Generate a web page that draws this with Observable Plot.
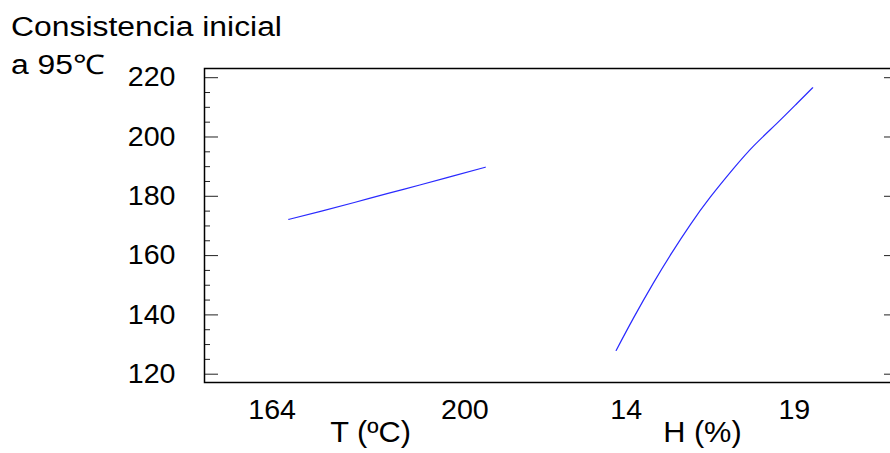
<!DOCTYPE html>
<html><head><meta charset="utf-8">
<script src="https://cdn.jsdelivr.net/npm/d3@7"></script>
<script src="https://cdn.jsdelivr.net/npm/@observablehq/plot@0.6"></script>
<style>
html,body{margin:0;padding:0;background:#fff;overflow:hidden;width:890px;height:453px}
#wrap{position:relative;width:890px;height:453px;overflow:hidden}
#title{position:absolute;left:11px;top:8px;font-family:"Liberation Sans",Arial,sans-serif;font-size:27px;line-height:38px;transform:scaleX(1.18);transform-origin:0 0;white-space:nowrap;color:#000;z-index:2}
svg{max-width:none !important}
</style></head><body>
<div id="wrap"><div id="title">Consistencia inicial<br>a 95℃</div></div>
<script>
// ---- data ----
const factorNames = ["T (ºC)", "H (%)"];
const factorRanges = [[164, 200], [14, 19]];
const tLevels   = [164, 170, 176, 182, 188, 194, 200];
const tResponse = [172.2, 175.0, 177.9, 180.9, 183.8, 186.8, 189.8];
const hLevels   = [14, 14.44, 14.95, 15.42, 15.88, 16.39, 16.99, 17.50, 18.09, 18.60, 19];
const hResponse = [128.0, 138.9, 150.8, 161.0, 170.3, 179.6, 189.4, 197.0, 204.6, 211.3, 216.6];
const xTickLabels = ["164", "200", "14", "19"];
const yMajor = [120, 140, 160, 180, 200, 220];
const yMinor = [125, 130, 135, 145, 150, 155, 165, 170, 175, 185, 190, 195, 205, 210, 215];

// ---- layout (coded positions along the shared x axis) ----
const segStart = [0, 1.666];
const xTickPos = [-0.085, 0.896, 1.717, 2.573];
const xLabelPos = [0.416, 2.105];

const toPos = (f, v) => segStart[f] + (v - factorRanges[f][0]) / (factorRanges[f][1] - factorRanges[f][0]);
const rows = [
  ...tLevels.map((v, i) => ({factor: factorNames[0], pos: toPos(0, v), y: tResponse[i]})),
  ...hLevels.map((v, i) => ({factor: factorNames[1], pos: toPos(1, v), y: hResponse[i]}))
];

const W = 898, mL = 204, mR = 0, plotW = W - mL - mR;
const font = "Liberation Sans, Arial, sans-serif";

const chart = Plot.plot({
  width: W, height: 453,
  marginLeft: mL, marginRight: mR, marginTop: 68, marginBottom: 71,
  style: {fontFamily: font, fontSize: "27px", color: "#000", background: "#fff", overflow: "visible", maxWidth: "none"},
  x: {domain: [-0.429, 3.103], axis: null},
  y: {domain: [117.2, 223.1], axis: null},
  marks: [
    Plot.ruleY(yMajor, {y: d => d, insetRight: plotW - 14, stroke: "#222", strokeWidth: 1}),
    Plot.ruleY(yMinor, {y: d => d, insetRight: plotW - 6, stroke: "#222", strokeWidth: 1}),
    Plot.ruleY(yMajor, {y: d => d, insetLeft: plotW - 14, stroke: "#222", strokeWidth: 1}),
    Plot.ruleY(yMinor, {y: d => d, insetLeft: plotW - 6, stroke: "#222", strokeWidth: 1}),
    Plot.frame({stroke: "#000", strokeWidth: 1.5}),
    Plot.line(rows, {x: "pos", y: "y", z: "factor", stroke: "#2a2aff", strokeWidth: 1.2, curve: "natural"}),
    Plot.axisY({ticks: yMajor, tickSize: 0, tickPadding: 29, fontSize: 27, label: null}),
    Plot.text(xTickLabels, {x: (d, i) => xTickPos[i], frameAnchor: "bottom", lineAnchor: "top", dy: 17, fontSize: 27, fill: "#000"}),
    Plot.text(factorNames, {x: (d, i) => xLabelPos[i], frameAnchor: "bottom", lineAnchor: "top", dy: 39, fontSize: 29, fill: "#000"})
  ]
});
document.getElementById("wrap").appendChild(chart);
chart.style.position = "absolute";
chart.style.left = "0px";
chart.style.top = "0px";
chart.style.maxWidth = "none";
// widen glyphs slightly to match the reference's horizontal proportions
chart.querySelectorAll("text").forEach(t => {
  const len = t.getComputedTextLength();
  if (len > 0) {
    t.setAttribute("textLength", len * 1.06);
    t.setAttribute("lengthAdjust", "spacingAndGlyphs");
  }
});
</script>
</body></html>
